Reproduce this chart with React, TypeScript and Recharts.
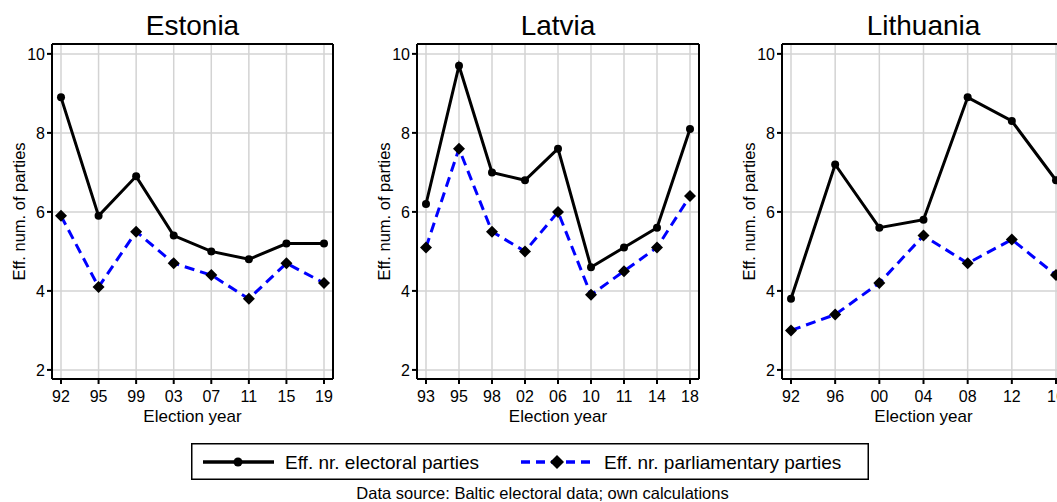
import { CartesianGrid, Line, LineChart, XAxis, YAxis } from "recharts";

const estoniaYears = ["92", "95", "99", "03", "07", "11", "15", "19"];
const estoniaElectoral = [8.9, 5.9, 6.9, 5.4, 5.0, 4.8, 5.2, 5.2];
const estoniaParliamentary = [5.9, 4.1, 5.5, 4.7, 4.4, 3.8, 4.7, 4.2];

const latviaYears = ["93", "95", "98", "02", "06", "10", "11", "14", "18"];
const latviaElectoral = [6.2, 9.7, 7.0, 6.8, 7.6, 4.6, 5.1, 5.6, 8.1];
const latviaParliamentary = [5.1, 7.6, 5.5, 5.0, 6.0, 3.9, 4.5, 5.1, 6.4];

const lithuaniaYears = ["92", "96", "00", "04", "08", "12", "16"];
const lithuaniaElectoral = [3.8, 7.2, 5.6, 5.8, 8.9, 8.3, 6.8];
const lithuaniaParliamentary = [3.0, 3.4, 4.2, 5.4, 4.7, 5.3, 4.4];

const yTicks = [2, 4, 6, 8, 10];
const yDomain: [number, number] = [1.77, 10.25];

const FONT = "Arial, 'Liberation Sans', Helvetica, sans-serif";

function Diamond(props: any) {
  const { cx, cy, index } = props;
  if (cx == null || cy == null) return <g key={index} />;
  const s = 6;
  return (
    <path
      key={index}
      d={`M${cx},${cy - s}L${cx + s},${cy}L${cx},${cy + s}L${cx - s},${cy}Z`}
      fill="#000"
    />
  );
}

function Panel({
  title,
  years,
  electoral,
  parliamentary,
  left,
  width,
}: {
  title: string;
  years: string[];
  electoral: number[];
  parliamentary: number[];
  left: number;
  width: number;
}) {
  const data = years.map((year, i) => ({
    year,
    electoral: electoral[i],
    parliamentary: parliamentary[i],
  }));
  const pad = { left: 9, right: 9 };
  return (
    <div style={{ position: "absolute", left, top: 0 }}>
      <LineChart
        width={width}
        height={432}
        data={data}
        margin={{ top: 43, right: 11, bottom: 0, left: 0 }}
      >
        <CartesianGrid stroke="#d3d3d3" strokeWidth={1.5} />
        <XAxis
          dataKey="year"
          height={53}
          interval={0}
          padding={pad}
          stroke="#000"
          strokeWidth={2}
          tickSize={5}
          tickMargin={7}
          tick={{ fill: "#000", fontSize: 16 }}
          label={{
            value: "Election year",
            position: "insideBottom",
            offset: 10,
            fill: "#000",
            fontSize: 17,
          }}
        />
        <XAxis
          xAxisId="top"
          orientation="top"
          dataKey="year"
          height={1}
          padding={pad}
          stroke="#000"
          strokeWidth={2}
          tick={false}
          tickLine={false}
          label={{
            value: title,
            position: "top",
            offset: 8,
            fill: "#000",
            fontSize: 28,
          }}
        />
        <YAxis
          domain={yDomain}
          ticks={yTicks}
          allowDataOverflow
          width={52}
          stroke="#000"
          strokeWidth={2}
          tickSize={5}
          tickMargin={2}
          tick={{ fill: "#000", fontSize: 16 }}
          label={{
            value: "Eff. num. of parties",
            angle: -90,
            position: "insideLeft",
            offset: 19.5,
            fill: "#000",
            fontSize: 16.5,
            style: { textAnchor: "middle" },
          }}
        />
        <YAxis
          yAxisId="right"
          orientation="right"
          domain={yDomain}
          allowDataOverflow
          width={1}
          stroke="#000"
          strokeWidth={2}
          tick={false}
          tickLine={false}
        />
        <Line
          dataKey="parliamentary"
          stroke="#0000ff"
          strokeWidth={3}
          strokeDasharray="10 6"
          dot={Diamond}
          activeDot={false}
          isAnimationActive={false}
        />
        <Line
          dataKey="electoral"
          stroke="#000"
          strokeWidth={3}
          dot={{ r: 4, fill: "#000", stroke: "#000", strokeWidth: 0 }}
          activeDot={false}
          isAnimationActive={false}
        />
      </LineChart>
    </div>
  );
}

function LegendBox() {
  return (
    <svg
      width={678}
      height={37}
      style={{ position: "absolute", left: 191, top: 443 }}
    >
      <rect x={0.75} y={0.75} width={676.5} height={35.5} fill="#fff" stroke="#000" strokeWidth={1.5} />
      <line x1={12} y1={19} x2={83} y2={19} stroke="#000" strokeWidth={3.5} />
      <circle cx={47} cy={19} r={4.5} fill="#000" />
      <text x={94} y={26} fontSize={19} fill="#000">
        Eff. nr. electoral parties
      </text>
      <line x1={330} y1={19} x2={401} y2={19} stroke="#0000ff" strokeWidth={3.5} strokeDasharray="9 6" />
      <path d="M366,12L373,19L366,26L359,19Z" fill="#000" />
      <text x={413} y={26} fontSize={19} fill="#000">
        Eff. nr. parliamentary parties
      </text>
    </svg>
  );
}

export default function App() {
  return (
    <div
      style={{
        position: "absolute",
        left: 0,
        top: 0,
        width: 1057,
        height: 502,
        overflow: "hidden",
        background: "#fff",
        fontFamily: FONT,
      }}
    >
      <Panel
        title="Estonia"
        years={estoniaYears}
        electoral={estoniaElectoral}
        parliamentary={estoniaParliamentary}
        left={0}
        width={345}
      />
      <Panel
        title="Latvia"
        years={latviaYears}
        electoral={latviaElectoral}
        parliamentary={latviaParliamentary}
        left={365}
        width={346}
      />
      <Panel
        title="Lithuania"
        years={lithuaniaYears}
        electoral={lithuaniaElectoral}
        parliamentary={lithuaniaParliamentary}
        left={730}
        width={347}
      />
      <LegendBox />
      <div
        style={{
          position: "absolute",
          left: 0,
          top: 485,
          width: 1085,
          textAlign: "center",
          fontSize: 16.5,
          lineHeight: "16.5px",
          color: "#000",
        }}
      >
        Data source: Baltic electoral data; own calculations
      </div>
    </div>
  );
}
